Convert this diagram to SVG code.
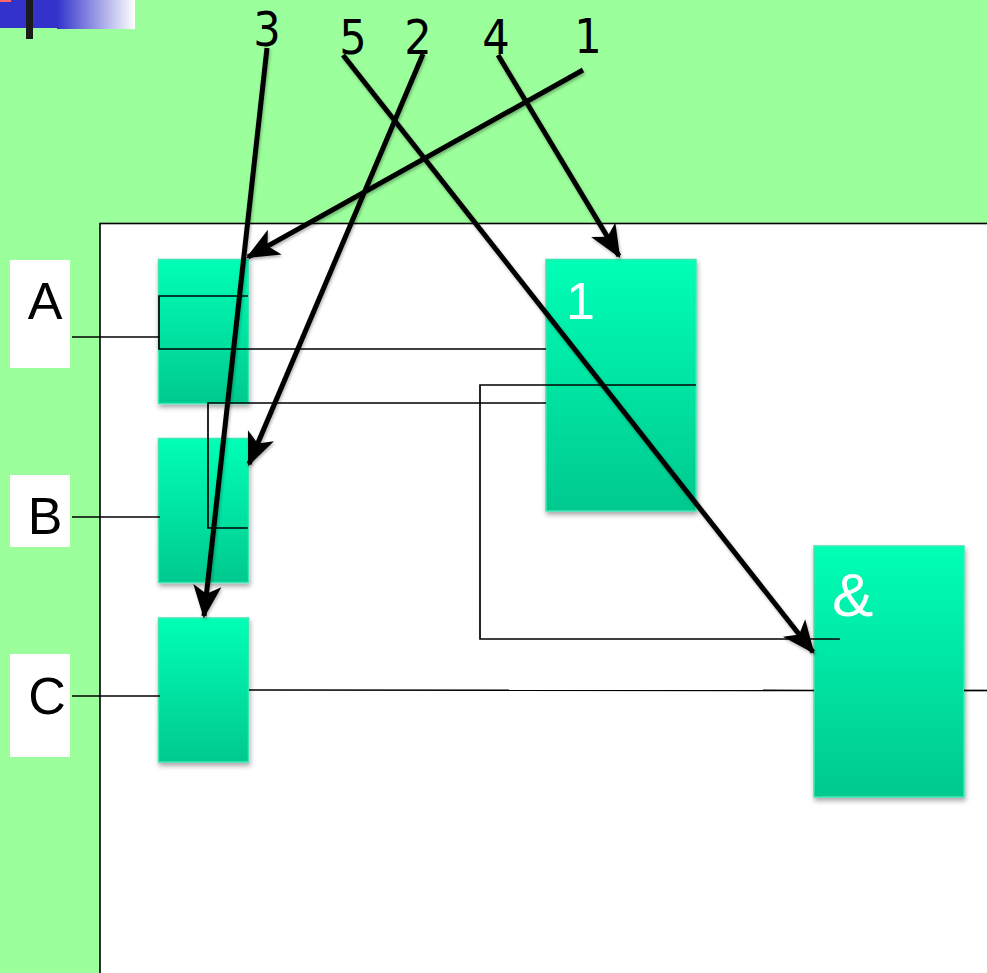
<svg xmlns="http://www.w3.org/2000/svg" width="987" height="973" viewBox="0 0 987 973">
<style>
.wire{fill:none;stroke:#000;stroke-width:1.7}
.arr{fill:none;stroke:#000;stroke-width:5;marker-end:url(#ah)}
.gate{fill:url(#gg);stroke:#3ee6b4;stroke-width:1.5;filter:url(#sh)}
.lbl{fill:#fff}
.lt{font-family:"Liberation Sans",Arial,sans-serif;font-size:52px;fill:#000;text-anchor:middle}
.gt{font-family:"Liberation Sans",Arial,sans-serif;fill:#fff}
.num{font-family:"DejaVu Sans Condensed","DejaVu Sans",sans-serif;font-size:48px;fill:#000;text-anchor:middle}
</style>
<defs>
<linearGradient id="gg" x1="0" y1="0" x2="0" y2="1">
<stop offset="0" stop-color="#00ffb6"/>
<stop offset="1" stop-color="#00c98e"/>
</linearGradient>
<linearGradient id="bw" x1="0" y1="0" x2="1" y2="0">
<stop offset="0" stop-color="#3333cc"/>
<stop offset="1" stop-color="#ffffff"/>
</linearGradient>
<filter id="sh" x="-20%" y="-10%" width="140%" height="130%">
<feDropShadow dx="1" dy="3" stdDeviation="2.5" flood-color="#000" flood-opacity="0.35"/>
</filter>
<filter id="ash" x="-10%" y="-10%" width="120%" height="120%">
<feDropShadow dx="1" dy="2" stdDeviation="1.5" flood-color="#000" flood-opacity="0.3"/>
</filter>
<marker id="ah" markerUnits="userSpaceOnUse" markerWidth="40" markerHeight="40" viewBox="-30 -15 34 30" refX="0" refY="0" orient="auto">
<path d="M2,0 L-26,-12 L-19,0 L-26,12 Z" fill="#000"/>
</marker>
</defs>
<rect x="0" y="0" width="987" height="973" fill="#9bff9b"/>
<g id="corner">
<rect x="0" y="0" width="57" height="28" fill="#3333cc"/>
<rect x="57" y="0" width="78" height="29" fill="url(#bw)"/>
<rect x="0" y="0" width="11" height="2" fill="#ff6666"/>
<rect x="26" y="0" width="7" height="39" fill="#1a1a1a"/>
</g>
<rect id="panel" x="100" y="223.5" width="890" height="752" fill="#fff" stroke="#000" stroke-width="1.6"/>
<g id="labelA"><rect class="lbl" x="10" y="260" width="60" height="108"/><text class="lt" x="45" y="319">A</text></g>
<g id="labelB"><rect class="lbl" x="10" y="475" width="60" height="72"/><text class="lt" x="45" y="534">B</text></g>
<g id="labelC"><rect class="lbl" x="10" y="654" width="60" height="103"/><text class="lt" x="47" y="714">C</text></g>
<g id="gate1"><rect class="gate" x="158.5" y="259.5" width="90" height="144"/></g>
<g id="gate2"><rect class="gate" x="158.5" y="438.5" width="90" height="144"/></g>
<g id="gate3"><rect class="gate" x="158.5" y="618" width="90" height="144"/></g>
<g id="gateOr"><rect class="gate" x="546" y="259.5" width="150" height="251.5"/><text class="gt" x="566" y="319" font-size="52">1</text></g>
<g id="gateAnd"><rect class="gate" x="814" y="546" width="150" height="251"/><text class="gt" x="832" y="616" font-size="62">&amp;</text></g>
<g id="wires">
<polyline class="wire" points="72,337 160,337"/>
<polyline class="wire" points="248,296 159,296 159,349 546,349"/>
<polyline class="wire" points="248,528 208,528 208,403 546,403"/>
<polyline class="wire" points="696,385 480,385 480,639 840,639"/>
<polyline class="wire" points="72,517 160,517"/>
<polyline class="wire" points="72,696 160,696"/>
<polyline class="wire" points="249,690 814,690.5"/>
<polyline class="wire" points="964,690.5 987,690.5"/>
</g>
<g id="numbers">
<text class="num" x="267" y="46">3</text>
<text class="num" x="353" y="54">5</text>
<text class="num" x="418" y="54">2</text>
<text class="num" x="496" y="54">4</text>
<text class="num" x="588" y="53">1</text>
</g>
<g id="arrows" filter="url(#ash)">
<line class="arr" x1="267" y1="48" x2="204" y2="616"/>
<line class="arr" x1="343" y1="55" x2="813" y2="652"/>
<line class="arr" x1="423" y1="54" x2="249" y2="464"/>
<line class="arr" x1="498" y1="55" x2="619" y2="256"/>
<line class="arr" x1="583" y1="70" x2="248" y2="257"/>
</g>
</svg>
